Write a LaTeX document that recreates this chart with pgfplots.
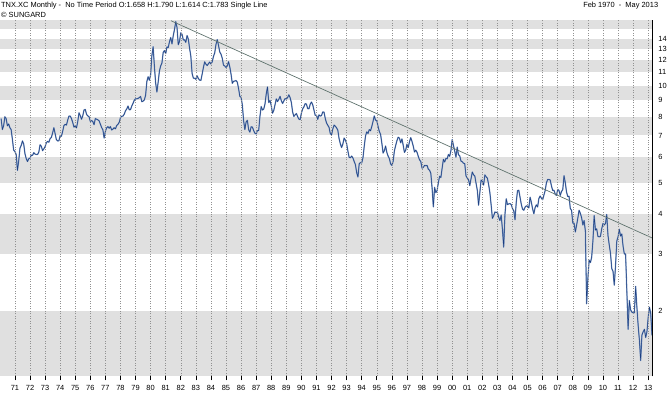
\documentclass[border=0pt]{standalone}
\usepackage{fontspec}
\setmainfont{Liberation Sans}
\usepackage{pgfplots}
\usepackage{pgfplotstable}
\pgfplotsset{compat=1.18}
\definecolor{band}{RGB}{224,224,224}
\definecolor{gridc}{RGB}{145,145,145}
\definecolor{lineA}{RGB}{120,148,192}
\definecolor{lineB}{RGB}{28,62,128}
\definecolor{trend}{RGB}{95,115,110}

% monthly 10-year yield, Feb 1970 .. May 2013
\pgfplotstableread[row sep=\\]{
y\\
7.9\\ 7.3\\ 7.5\\ 8.0\\ 7.9\\ 7.5\\ 7.6\\ 7.4\\ 7.3\\ 6.8\\ 6.3\\
6.24\\ 6.11\\ 5.45\\ 5.83\\ 6.39\\ 6.52\\ 6.73\\ 6.58\\ 6.14\\ 5.93\\ 5.81\\ 5.93\\
5.95\\ 6.08\\ 6.07\\ 6.19\\ 6.13\\ 6.11\\ 6.11\\ 6.21\\ 6.55\\ 6.48\\ 6.28\\ 6.36\\
6.46\\ 6.64\\ 6.71\\ 6.67\\ 6.85\\ 6.90\\ 7.13\\ 7.40\\ 7.09\\ 6.79\\ 6.73\\ 6.74\\
6.99\\ 6.96\\ 7.21\\ 7.51\\ 7.58\\ 7.54\\ 7.81\\ 8.04\\ 8.04\\ 7.90\\ 7.68\\ 7.43\\
7.50\\ 7.39\\ 7.73\\ 8.23\\ 8.06\\ 7.86\\ 8.06\\ 8.40\\ 8.43\\ 8.14\\ 8.05\\ 8.00\\
7.74\\ 7.79\\ 7.73\\ 7.56\\ 7.90\\ 7.86\\ 7.83\\ 7.77\\ 7.59\\ 7.41\\ 7.29\\ 6.87\\
7.21\\ 7.39\\ 7.46\\ 7.37\\ 7.46\\ 7.28\\ 7.33\\ 7.40\\ 7.34\\ 7.52\\ 7.58\\ 7.69\\
7.96\\ 8.03\\ 8.04\\ 8.15\\ 8.35\\ 8.46\\ 8.64\\ 8.41\\ 8.42\\ 8.64\\ 8.81\\ 9.01\\
9.10\\ 9.10\\ 9.12\\ 9.18\\ 9.25\\ 8.91\\ 8.95\\ 9.03\\ 9.33\\ 10.30\\ 10.65\\ 10.39\\
10.80\\ 12.41\\ 13.20\\ 11.47\\ 10.18\\ 9.55\\ 10.25\\ 11.10\\ 11.51\\ 11.75\\ 12.68\\ 12.84\\
12.57\\ 13.19\\ 13.12\\ 13.68\\ 14.10\\ 13.47\\ 14.28\\ 14.94\\ 15.80\\ 15.15\\ 13.39\\ 13.72\\
14.59\\ 14.43\\ 13.86\\ 13.87\\ 13.62\\ 14.30\\ 13.95\\ 13.06\\ 12.34\\ 10.91\\ 10.55\\ 10.54\\
10.46\\ 10.72\\ 10.51\\ 10.40\\ 10.38\\ 10.85\\ 11.38\\ 11.85\\ 11.65\\ 11.54\\ 11.69\\ 11.83\\
11.67\\ 11.84\\ 12.32\\ 12.63\\ 13.41\\ 13.90\\ 13.36\\ 12.72\\ 12.52\\ 12.16\\ 11.57\\ 11.50\\
11.38\\ 11.51\\ 11.86\\ 11.43\\ 10.85\\ 10.16\\ 10.31\\ 10.33\\ 10.37\\ 10.24\\ 9.78\\ 9.26\\
9.19\\ 8.70\\ 7.78\\ 7.30\\ 7.71\\ 7.80\\ 7.30\\ 7.17\\ 7.45\\ 7.43\\ 7.25\\ 7.11\\
7.08\\ 7.25\\ 7.25\\ 8.02\\ 8.61\\ 8.40\\ 8.45\\ 8.76\\ 9.42\\ 9.90\\ 8.86\\ 8.99\\
8.67\\ 8.21\\ 8.37\\ 8.72\\ 9.09\\ 8.92\\ 9.06\\ 9.26\\ 8.98\\ 8.80\\ 8.96\\ 9.11\\
9.09\\ 9.17\\ 9.36\\ 9.18\\ 8.86\\ 8.28\\ 8.02\\ 8.11\\ 8.19\\ 8.01\\ 7.87\\ 7.84\\
8.21\\ 8.47\\ 8.59\\ 8.79\\ 8.76\\ 8.48\\ 8.47\\ 8.75\\ 8.89\\ 8.72\\ 8.39\\ 8.08\\
8.09\\ 7.85\\ 8.11\\ 8.04\\ 8.07\\ 8.28\\ 8.27\\ 7.90\\ 7.65\\ 7.53\\ 7.42\\ 7.09\\
7.03\\ 7.34\\ 7.54\\ 7.48\\ 7.39\\ 7.26\\ 6.84\\ 6.59\\ 6.42\\ 6.59\\ 6.87\\ 6.77\\
6.60\\ 6.26\\ 5.98\\ 5.97\\ 6.04\\ 5.96\\ 5.81\\ 5.68\\ 5.36\\ 5.20\\ 5.72\\ 5.77\\
5.75\\ 5.97\\ 6.48\\ 6.97\\ 7.18\\ 7.10\\ 7.30\\ 7.24\\ 7.46\\ 7.74\\ 8.05\\ 7.81\\
7.78\\ 7.47\\ 7.20\\ 7.06\\ 6.63\\ 6.17\\ 6.28\\ 6.49\\ 6.20\\ 6.04\\ 5.93\\ 5.71\\
5.65\\ 5.81\\ 6.27\\ 6.51\\ 6.74\\ 6.91\\ 6.87\\ 6.64\\ 6.83\\ 6.53\\ 6.20\\ 6.30\\
6.58\\ 6.42\\ 6.69\\ 6.89\\ 6.71\\ 6.49\\ 6.22\\ 6.30\\ 6.21\\ 6.03\\ 5.88\\ 5.81\\
5.54\\ 5.57\\ 5.65\\ 5.64\\ 5.65\\ 5.50\\ 5.46\\ 5.34\\ 4.81\\ 4.20\\ 4.83\\ 4.65\\
4.72\\ 5.00\\ 5.23\\ 5.18\\ 5.54\\ 5.90\\ 5.79\\ 5.94\\ 5.92\\ 6.11\\ 6.03\\ 6.28\\
6.80\\ 6.52\\ 6.26\\ 5.99\\ 6.44\\ 6.10\\ 6.05\\ 5.83\\ 5.80\\ 5.74\\ 5.72\\ 5.24\\
5.16\\ 5.10\\ 4.89\\ 5.14\\ 5.39\\ 5.28\\ 5.24\\ 4.97\\ 4.73\\ 4.25\\ 4.65\\ 5.09\\
5.04\\ 4.91\\ 5.28\\ 5.21\\ 5.16\\ 4.93\\ 4.65\\ 4.26\\ 3.87\\ 3.94\\ 4.05\\ 4.03\\
4.05\\ 3.90\\ 3.81\\ 3.96\\ 3.57\\ 3.15\\ 3.98\\ 4.45\\ 4.27\\ 4.29\\ 4.30\\ 4.27\\
4.15\\ 4.08\\ 3.83\\ 4.35\\ 4.72\\ 4.73\\ 4.50\\ 4.28\\ 4.13\\ 4.10\\ 4.19\\ 4.23\\
4.22\\ 4.17\\ 4.50\\ 4.34\\ 4.14\\ 4.00\\ 4.18\\ 4.26\\ 4.20\\ 4.46\\ 4.54\\ 4.47\\
4.42\\ 4.57\\ 4.72\\ 4.99\\ 5.11\\ 5.11\\ 5.09\\ 4.88\\ 4.72\\ 4.73\\ 4.60\\ 4.56\\
4.76\\ 4.72\\ 4.56\\ 4.69\\ 4.75\\ 5.25\\ 5.00\\ 4.67\\ 4.52\\ 4.53\\ 4.15\\ 4.10\\
3.74\\ 3.74\\ 3.51\\ 3.68\\ 3.88\\ 4.10\\ 4.01\\ 3.89\\ 3.69\\ 3.81\\ 3.53\\ 2.10\\
2.52\\ 2.87\\ 2.82\\ 2.93\\ 3.29\\ 3.95\\ 3.56\\ 3.59\\ 3.40\\ 3.39\\ 3.40\\ 3.59\\
3.73\\ 3.69\\ 3.73\\ 3.98\\ 3.42\\ 3.20\\ 3.01\\ 2.70\\ 2.65\\ 2.40\\ 2.76\\ 3.29\\
3.39\\ 3.58\\ 3.41\\ 3.46\\ 3.17\\ 3.00\\ 3.00\\ 2.30\\ 1.75\\ 2.15\\ 2.01\\ 1.98\\
1.97\\ 1.97\\ 2.38\\ 2.05\\ 1.80\\ 1.62\\ 1.40\\ 1.68\\ 1.72\\ 1.75\\ 1.65\\ 1.72\\
1.91\\ 2.05\\ 1.96\\ 1.68\\ 1.78\\
}\tnx

\begin{document}
\begin{tikzpicture}
\path (0pt,0pt) rectangle (670pt,395pt);
\begin{axis}[
  at={(0pt,16pt)}, anchor=south west,
  scale only axis, width=657pt, height=359pt,
  xmin=1970.01, xmax=2013.28,
  ymode=log, ymin=1.25, ymax=16,
  axis on top,
  axis x line*=bottom, axis y line*=right,
  x axis line style={draw=none,-},
  y axis line style={black, line width=0.9pt,-},
  xtick={1971,1972,...,2013},
  xticklabels={71,72,73,74,75,76,77,78,79,80,81,82,83,84,85,86,87,88,89,90,91,92,93,94,95,96,97,98,99,00,01,02,03,04,05,06,07,08,09,10,11,12,13},
  ytick={2,3,4,5,6,7,8,9,10,11,12,13,14},
  yticklabels={2,3,4,5,6,7,8,9,10,11,12,13,14},
  ytick style={draw=none},
  xtick style={black, line width=0.6pt},
  tick align=outside, major tick length=4pt,
  xmajorgrids,
  major grid style={gridc, dash pattern=on 1pt off 1.5pt, line width=0.5pt},
  ticklabel style={font=\fontsize{7.5}{8}\selectfont},
  xticklabel style={yshift=-1.5pt},
  yticklabel style={xshift=-1.5pt},
]
\addplot[draw=none, fill=band, forget plot] coordinates {(1970.01,1.25) (2013.28,1.25) (2013.28,2) (1970.01,2)} -- cycle;
\addplot[draw=none, fill=band, forget plot] coordinates {(1970.01,3) (2013.28,3) (2013.28,4) (1970.01,4)} -- cycle;
\addplot[draw=none, fill=band, forget plot] coordinates {(1970.01,5) (2013.28,5) (2013.28,6) (1970.01,6)} -- cycle;
\addplot[draw=none, fill=band, forget plot] coordinates {(1970.01,7) (2013.28,7) (2013.28,8) (1970.01,8)} -- cycle;
\addplot[draw=none, fill=band, forget plot] coordinates {(1970.01,9) (2013.28,9) (2013.28,10) (1970.01,10)} -- cycle;
\addplot[draw=none, fill=band, forget plot] coordinates {(1970.01,11) (2013.28,11) (2013.28,12) (1970.01,12)} -- cycle;
\addplot[draw=none, fill=band, forget plot] coordinates {(1970.01,13) (2013.28,13) (2013.28,14) (1970.01,14)} -- cycle;
\addplot[draw=none, fill=band, forget plot] coordinates {(1970.01,15) (2013.28,15) (2013.28,16) (1970.01,16)} -- cycle;
\addplot[lineA, line width=1.3pt, line join=round] table[x expr=1970+1/12+\coordindex/12, y=y] {\tnx};
\addplot[lineB, line width=0.5pt, line join=round] table[x expr=1970+1/12+\coordindex/12, y=y] {\tnx};
\addplot[trend, line width=0.7pt] coordinates {(1981.35,15.9) (2013.28,3.36)};
\end{axis}
\node[anchor=west, inner sep=0pt, font=\fontsize{7.5}{8}\selectfont] at (1pt,389pt) {TNX.XC Monthly -\ \ No Time Period O:1.658 H:1.790 L:1.614 C:1.783 Single Line};
\node[anchor=west, inner sep=0pt, font=\fontsize{7.5}{8}\selectfont] at (1pt,380pt) {\copyright\ SUNGARD};
\node[anchor=east, inner sep=0pt, font=\fontsize{7.5}{8}\selectfont] at (663pt,389pt) {Feb 1970\ \ -\ \ May 2013};
\end{tikzpicture}
\end{document}
